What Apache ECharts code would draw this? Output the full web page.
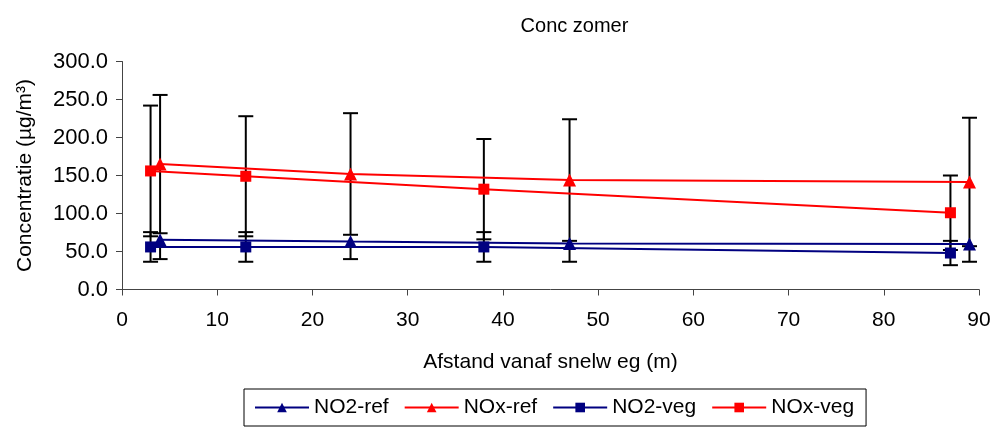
<!DOCTYPE html>
<html>
<head>
<meta charset="utf-8">
<script src="https://cdn.jsdelivr.net/npm/echarts@6/dist/echarts.min.js"></script>
<style>
html,body{margin:0;padding:0;background:#fff;}
#chart{width:995px;height:427px;}
</style>
</head>
<body>
<div id="chart"></div>
<script>
// ---- data ----
const refX = [4, 24, 47, 89];
const vegX = [3, 13, 38, 87];
const no2Ref = [65.5, 63, 60.5, 60];
const no2RefErrMinus = [25.5, 23, 24, 23.5];
const noxRef = [165, 152, 144, 141.5];
const noxRefErr = [91, 80, 80, 84.5];
const no2Veg = [56, 56, 56, 48];
const no2VegErr = [19.5, 19.5, 19.5, 16];
const noxVeg = [156, 149, 132, 101];
const noxVegErr = [86, 79, 66, 49];
const seriesNames = ['NO2-ref', 'NOx-ref', 'NO2-veg', 'NOx-veg'];
const xTicks = [0, 90, 10];
const yTicks = [0, 300, 50];

const FONT = "'Liberation Sans', Arial, sans-serif";
const NAVY = '#000080';
const RED = '#FF0000';

function pts(xs, ys) { return xs.map((x, i) => [x, ys[i]]); }
// [x, low, high, capLow, capHigh]
function errs(xs, ys, es) { return xs.map((x, i) => [x, ys[i] - es[i], ys[i] + es[i], 1, 1]); }
function errsMinus(xs, ys, es) { return xs.map((x, i) => [x, ys[i] - es[i], ys[i], 1, 0]); }

function errRender(params, api) {
  const x = api.value(0), lo = api.value(1), hi = api.value(2);
  const capLo = api.value(3), capHi = api.value(4);
  const a = api.coord([x, lo]), b = api.coord([x, hi]);
  const hw = 7.5;
  const st = { stroke: '#000', lineWidth: 2 };
  const children = [
    { type: 'line', shape: { x1: a[0], y1: a[1], x2: b[0], y2: b[1] }, style: st }
  ];
  if (capLo) children.push({ type: 'line', shape: { x1: a[0] - hw, y1: a[1], x2: a[0] + hw, y2: a[1] }, style: st });
  if (capHi) children.push({ type: 'line', shape: { x1: b[0] - hw, y1: b[1], x2: b[0] + hw, y2: b[1] }, style: st });
  return { type: 'group', children: children };
}

function lineSeries(name, data, color, symbol, size) {
  return {
    name: name, type: 'line', data: data, z: 3,
    symbol: symbol, symbolSize: size,
    itemStyle: { color: color },
    lineStyle: { color: color, width: 2 },
    animation: false
  };
}
function errSeries(data) {
  return { type: 'custom', renderItem: errRender, data: data, z: 2, animation: false, silent: true };
}

const chart = echarts.init(document.getElementById('chart'), null, { renderer: 'canvas' });
chart.setOption({
  backgroundColor: '#fff',
  animation: false,
  textStyle: { fontFamily: FONT },
  title: {
    text: 'Conc zomer',
    left: 569.5, top: 11, textAlign: 'center',
    textStyle: { fontFamily: FONT, fontSize: 20, fontWeight: 'normal', color: '#000' }
  },
  grid: { left: 122, right: 16, top: 61.5, bottom: 137.5 },
  xAxis: {
    type: 'value', min: xTicks[0], max: xTicks[1], interval: xTicks[2],
    name: 'Afstand vanaf snelw eg (m)', nameLocation: 'middle', nameGap: 62,
    nameTextStyle: { fontFamily: FONT, fontSize: 21, color: '#000' },
    axisLine: { show: true, lineStyle: { color: '#444', width: 1 } },
    axisTick: { show: true, length: 6, lineStyle: { color: '#444' } },
    axisLabel: { margin: 20, fontFamily: FONT, fontSize: 21, color: '#000' },
    splitLine: { show: false }
  },
  yAxis: {
    type: 'value', min: yTicks[0], max: yTicks[1], interval: yTicks[2],
    name: 'Concentratie (µg/m³)', nameLocation: 'middle', nameGap: 86, nameRotate: 90,
    nameTextStyle: { fontFamily: FONT, fontSize: 21, color: '#000' },
    axisLine: { show: true, lineStyle: { color: '#444', width: 1 } },
    axisTick: { show: true, length: 6, lineStyle: { color: '#444' } },
    axisLabel: { margin: 14, fontFamily: FONT, fontSize: 22, color: '#000',
      formatter: v => v.toFixed(1) },
    splitLine: { show: false }
  },
  legend: {
    data: seriesNames,
    left: 244, top: 389,
    padding: [8, 12, 8, 10],
    itemGap: 15, itemWidth: 54, itemHeight: 12,
    borderColor: '#000', borderWidth: 1,
    textStyle: { fontFamily: FONT, fontSize: 21, color: '#000' }
  },
  series: [
    errSeries(errsMinus(refX, no2Ref, no2RefErrMinus)),
    errSeries(errs(refX, noxRef, noxRefErr)),
    errSeries(errs(vegX, no2Veg, no2VegErr)),
    errSeries(errs(vegX, noxVeg, noxVegErr)),
    lineSeries(seriesNames[0], pts(refX, no2Ref), NAVY, 'triangle', 13),
    lineSeries(seriesNames[1], pts(refX, noxRef), RED, 'triangle', 13),
    lineSeries(seriesNames[2], pts(vegX, no2Veg), NAVY, 'rect', 11),
    lineSeries(seriesNames[3], pts(vegX, noxVeg), RED, 'rect', 11)
  ]
});
</script>
</body>
</html>
